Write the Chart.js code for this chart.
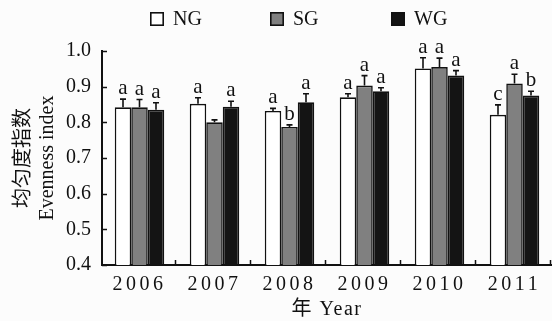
<!DOCTYPE html>
<html>
<head>
<meta charset="utf-8">
<script src="https://cdn.jsdelivr.net/npm/chart.js@4.4.1/dist/chart.umd.min.js"></script>
<style>
  html, body { margin: 0; padding: 0; background: #fcfcfc; }
  #wrap { width: 552px; height: 321px; }
</style>
</head>
<body>
<div id="wrap"><canvas id="chart" width="552" height="321"></canvas></div>
<script>
// data
const years = ['2006', '2007', '2008', '2009', '2010', '2011'];
const ngValues = [0.842, 0.852, 0.832, 0.870, 0.951, 0.821];
const sgValues = [0.842, 0.800, 0.787, 0.903, 0.955, 0.909];
const wgValues = [0.835, 0.844, 0.856, 0.887, 0.931, 0.875];
const ngErrors = [0.023, 0.017, 0.007, 0.010, 0.030, 0.028];
const sgErrors = [0.022, 0.007, 0.006, 0.028, 0.025, 0.026];
const wgErrors = [0.020, 0.015, 0.024, 0.010, 0.014, 0.012];
const ngLetters = ['a', 'a', 'a', 'a', 'a', 'c'];
const sgLetters = ['a', '', 'b', 'a', 'a', 'a'];
const wgLetters = ['a', 'a', 'a', 'a', 'a', 'b'];
const yTicks = [0.4, 0.5, 0.6, 0.7, 0.8, 0.9, 1.0];

const SERIF = "'Liberation Serif', 'Times New Roman', 'Noto Sans CJK SC', serif";
const INK = '#111';

// error bars + significance letters
const errorBars = {
    id: 'errorBars',
    afterDatasetsDraw(chart) {
        const ctx = chart.ctx;
        const y = chart.scales.y;
        ctx.save();
        ctx.strokeStyle = INK;
        ctx.fillStyle = INK;
        ctx.lineWidth = 1.6;
        ctx.font = '21px ' + SERIF;
        ctx.textAlign = 'center';
        ctx.textBaseline = 'alphabetic';
        chart.data.datasets.forEach((ds, i) => {
            chart.getDatasetMeta(i).data.forEach((bar, j) => {
                const top = y.getPixelForValue(ds.data[j] + ds.errors[j]);
                ctx.beginPath();
                ctx.moveTo(bar.x, bar.y);
                ctx.lineTo(bar.x, top);
                ctx.moveTo(bar.x - 3, top);
                ctx.lineTo(bar.x + 3, top);
                ctx.stroke();
                if (ds.letters[j]) ctx.fillText(ds.letters[j], bar.x, top - 5);
            });
        });
        ctx.restore();
    }
};

// inward tick marks on both axes
const innerTicks = {
    id: 'innerTicks',
    afterDraw(chart) {
        const {ctx, chartArea, scales: {x, y}} = chart;
        ctx.save();
        ctx.strokeStyle = INK;
        ctx.lineWidth = 1.5;
        ctx.beginPath();
        y.ticks.forEach(t => {
            const py = Math.round(y.getPixelForValue(t.value)) + 0.5;
            ctx.moveTo(chartArea.left, py);
            ctx.lineTo(chartArea.left + 5, py);
        });
        for (let i = 0; i < years.length; i++) {
            const px = Math.round(x.getPixelForValue(i + 0.5)) - 1.5;
            ctx.moveTo(px, chartArea.bottom);
            ctx.lineTo(px, chartArea.bottom - 5);
        }
        ctx.stroke();
        ctx.restore();
    }
};

// legend row on top
const topLegend = {
    id: 'topLegend',
    afterDraw(chart) {
        const ctx = chart.ctx;
        const starts = [150, 270, 391];
        ctx.save();
        ctx.font = '20px ' + SERIF;
        ctx.textAlign = 'left';
        ctx.textBaseline = 'middle';
        chart.data.datasets.forEach((ds, i) => {
            const x0 = starts[i];
            ctx.fillStyle = ds.backgroundColor;
            ctx.fillRect(x0, 12, 14, 14);
            ctx.strokeStyle = INK;
            ctx.lineWidth = 1.6;
            ctx.strokeRect(x0 + 0.8, 12.8, 12.4, 12.4);
            ctx.fillStyle = INK;
            ctx.fillText(ds.label, x0 + 23, 20);
        });
        ctx.restore();
    }
};

// wider letter spacing on the year labels, like the print
const spacedX = {
    id: 'spacedX',
    beforeDraw(chart) {
        const sx = chart.scales.x;
        if (sx._spaced) return;
        const drawLabels = sx.drawLabels.bind(sx);
        const drawTitle = sx.drawTitle.bind(sx);
        sx.drawLabels = function (area) {
            chart.ctx.save();
            chart.ctx.letterSpacing = '3.5px';
            drawLabels(area);
            chart.ctx.restore();
        };
        sx.drawTitle = function (area) {
            chart.ctx.save();
            chart.ctx.letterSpacing = '1.5px';
            drawTitle(area);
            chart.ctx.restore();
        };
        sx._spaced = true;
    }
};

const barStyle = { borderColor: INK, borderWidth: 1.6, barPercentage: 1.0, categoryPercentage: 0.66 };

new Chart(document.getElementById('chart'), {
    type: 'bar',
    data: {
        labels: years,
        datasets: [
            { label: 'NG', data: ngValues, errors: ngErrors, letters: ngLetters, backgroundColor: '#ffffff', ...barStyle },
            { label: 'SG', data: sgValues, errors: sgErrors, letters: sgLetters, backgroundColor: '#808080', ...barStyle },
            { label: 'WG', data: wgValues, errors: wgErrors, letters: wgLetters, backgroundColor: '#141414', ...barStyle }
        ]
    },
    options: {
        responsive: false,
        animation: false,
        devicePixelRatio: 1,
        layout: { padding: { top: 51, right: 0, bottom: 0, left: 0 } },
        plugins: { legend: { display: false }, tooltip: { enabled: false } },
        scales: {
            x: {
                offset: true,
                grid: { display: false, drawTicks: false },
                border: { display: true, color: INK, width: 2 },
                ticks: { color: INK, font: { family: SERIF, size: 20 }, padding: 8, maxRotation: 0 },
                title: { display: true, text: '年 Year', color: INK, font: { family: SERIF, size: 20 }, padding: { top: 0, bottom: -1 } },
                afterFit: s => { s.height = 56; }
            },
            y: {
                min: 0.4,
                max: 1.0,
                grid: { display: false, drawTicks: false },
                border: { display: true, color: INK, width: 2 },
                ticks: { color: INK, font: { family: SERIF, size: 20 }, padding: 11, callback: v => Number(v).toFixed(1) },
                afterBuildTicks: s => { s.ticks = yTicks.map(v => ({ value: v })); },
                title: { display: true, text: ['均匀度指数', 'Evenness index'], color: INK, font: { family: SERIF, size: 20 }, padding: { top: 12, bottom: 0 } },
                afterFit: s => { s.width = 102; }
            }
        }
    },
    plugins: [errorBars, innerTicks, topLegend, spacedX]
});
</script>
</body>
</html>
